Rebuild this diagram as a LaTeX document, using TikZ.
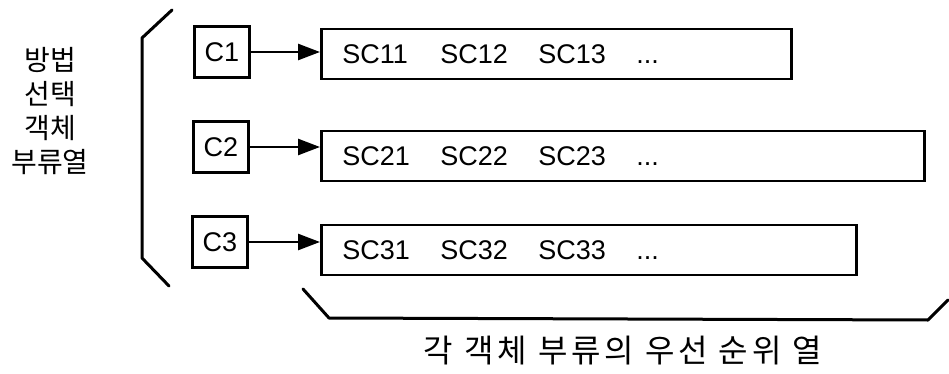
\documentclass[tikz,border=0pt]{standalone}
\usepackage{fontspec}
\setmainfont{Liberation Sans}
\newfontfamily\kor{Noto Sans CJK KR}
\newfontfamily\korwide[LetterSpace=12]{Noto Sans CJK KR}
\usetikzlibrary{arrows.meta}

% one entry of a priority row, on a fixed pitch
\newcommand{\scitem}[1]{\makebox[98pt][l]{#1}}

\begin{document}
\begin{tikzpicture}[x=1pt,y=-1pt,
    cbox/.style={draw, line width=2.6pt, minimum width=55pt, minimum height=51pt,
      inner sep=0pt, font=\fontsize{27}{30}\selectfont},
    scbox/.style={draw, line width=2.6pt, anchor=west, minimum height=50pt,
      inner xsep=21pt, align=left, font=\fontsize{27}{30}\selectfont},
    arr/.style={line width=2.6pt, -{Triangle[length=22pt,width=16pt]}},
    brace/.style={line width=3pt, line cap=round, line join=round}]
  \useasboundingbox (0,0) rectangle (949,374);

  % class boxes
  \node[cbox] (c1) at (222,52) {C1};
  \node[cbox] (c2) at (221,147) {C2};
  \node[cbox] (c3) at (220,242) {C3};

  % priority rows (text width = box width - 42)
  \node[scbox, text width=428pt] (sc1) at (320,54) {\scitem{SC11}\scitem{SC12}\scitem{SC13}...};
  \node[scbox, text width=561pt] (sc2) at (320,156) {\scitem{SC21}\scitem{SC22}\scitem{SC23}...};
  \node[scbox, text width=493pt] (sc3) at (320,250) {\scitem{SC31}\scitem{SC32}\scitem{SC33}...};

  \draw[arr] (c1.east) -- (sc1.west |- c1.east);
  \draw[arr] (c2.east) -- (sc2.west |- c2.east);
  \draw[arr] (c3.east) -- (sc3.west |- c3.east);

  % braces
  \draw[brace] (172,10) -- (142,38) -- (142,258) -- (169,286);
  \draw[brace] (303,289) -- (329,318) -- (928,320) -- (948,300);

  \node[font=\kor\fontsize{28}{34}\selectfont, align=center] (classlist) at (50,111)
    {방법\\선택\\객체\\부류열};
  \node[font=\korwide\fontsize{32}{34}\selectfont] (prilist) at (623,351)
    {각 객체 부류의 우선 순위 열};
\end{tikzpicture}
\end{document}
